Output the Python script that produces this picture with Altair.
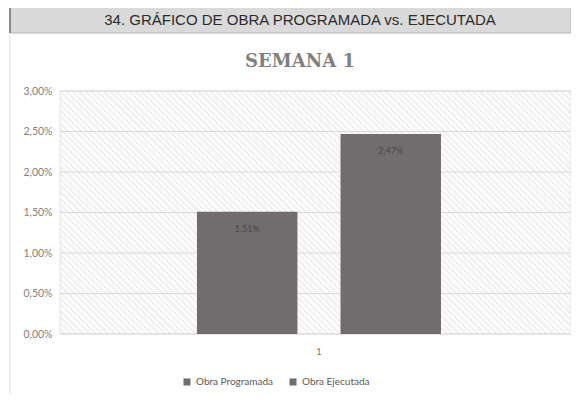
import altair as alt
import pandas as pd

# Data
categorias = ["1", "1"]
series = ["Obra Programada", "Obra Ejecutada"]
valores = [0.0151, 0.0247]

encabezado = "34. GRÁFICO DE OBRA PROGRAMADA vs. EJECUTADA"
titulo = "SEMANA 1"
y_ticks = [0.0, 0.005, 0.01, 0.015, 0.02, 0.025, 0.03]

df = pd.DataFrame({"semana": categorias, "serie": series, "valor": valores})
grid_df = pd.DataFrame({"valor": y_ticks})
one = pd.DataFrame({"k": [0]})

BAR = "#716c6d"
W, H = 511, 243

# faint diagonal hatch for the plot background (style only)
stops = []
n_periods = 120
for i in range(n_periods):
    a = i / n_periods
    b = (i + 0.5) / n_periods
    stops.append(alt.GradientStop(offset=a, color="#fdfdfd"))
    stops.append(alt.GradientStop(offset=b - 0.0001, color="#fdfdfd"))
    stops.append(alt.GradientStop(offset=b, color="#f1f1f1"))
    stops.append(alt.GradientStop(offset=(i + 1) / n_periods - 0.0001, color="#f1f1f1"))
hatch = alt.LinearGradient(gradient="linear", stops=stops, x1=0, y1=1, x2=1.2, y2=0.429)

base = alt.Chart(df)

x = alt.X("semana:N", title=None,
          scale=alt.Scale(paddingInner=0, paddingOuter=0.547, align=0.513),
          axis=alt.Axis(labelAngle=0, ticks=False, domain=False, labelPadding=12,
                        labelColor="#7f7f7f", labelFont="Lato", labelFontSize=10, grid=False))
y = alt.Y("valor:Q", title=None,
          scale=alt.Scale(domain=[0, 0.03], nice=False),
          axis=alt.Axis(values=y_ticks, ticks=False, domain=False, labelPadding=8, grid=False,
                        labelExpr="replace(format(datum.value, '.2%'), '.', ',')",
                        labelColor="#7f7f7f", labelFont="Lato", labelFontSize=10.5))
xoff = alt.XOffset("serie:N", sort=series,
                   scale=alt.Scale(paddingInner=0.3, paddingOuter=0))

bg = alt.Chart(one).mark_rect(fill=hatch, stroke="#e2e2e2").encode(
    x=alt.value(0), x2=alt.value(W), y=alt.value(0), y2=alt.value(H))

grid = alt.Chart(grid_df).mark_rule(color="#d9d9d9", strokeWidth=1).encode(
    y=y, x=alt.value(0), x2=alt.value(W))

bars = base.mark_bar(color=BAR).encode(
    x=x, y=y, xOffset=xoff,
    color=alt.Color("serie:N", sort=series,
                    scale=alt.Scale(domain=series, range=[BAR, BAR]),
                    legend=alt.Legend(title=None, orient="none", direction="horizontal",
                                      legendX=122, legendY=286, symbolType="square",
                                      symbolSize=50, labelFont="Lato", labelFontSize=10,
                                      labelColor="#595959", columnPadding=14)),
)

labels = base.transform_calculate(
    txt="replace(format(datum.valor, '.2%'), '.', ',')"
).mark_text(dy=17, fontSize=9, color="#4a4a4a", font="Lato").encode(
    x=x, y=y, xOffset=xoff, text="txt:N"
)

header_rect = alt.Chart(one).mark_rect(
    fill="#dadada", stroke="#b5b5b5", strokeWidth=1, clip=False
).encode(x=alt.value(-50), x2=alt.value(W), y=alt.value(-85), y2=alt.value(-58))

header_left = alt.Chart(one).mark_rule(color="#8a8a8a", strokeWidth=2, clip=False).encode(
    x=alt.value(-50), y=alt.value(-85), y2=alt.value(-58))

left_border = alt.Chart(one).mark_rule(color="#e0e0e0", strokeWidth=1, clip=False).encode(
    x=alt.value(-50), y=alt.value(-56), y2=alt.value(H + 60))

header_text = alt.Chart(one).mark_text(
    text=encabezado, font="Liberation Sans", fontSize=15, color="#2b2b2b",
    align="center", baseline="middle", clip=False
).encode(x=alt.value(240), y=alt.value(-71))

title_text = alt.Chart(one).mark_text(
    text=titulo, font="DejaVu Serif", fontSize=18, fontWeight="bold", color="#7f7f7f",
    align="center", baseline="middle", clip=False
).encode(x=alt.value(240), y=alt.value(-29))

chart = alt.layer(
    left_border, header_rect, header_left, header_text, title_text, bg, grid, bars, labels
).properties(
    width=W, height=H,
    autosize=alt.AutoSizeParams(type="none"),
    padding={"left": 52, "top": 83, "right": 0, "bottom": 60},
).configure_view(
    stroke=None
)

chart.save("out.html", embed_options={"renderer": "svg", "actions": False})
